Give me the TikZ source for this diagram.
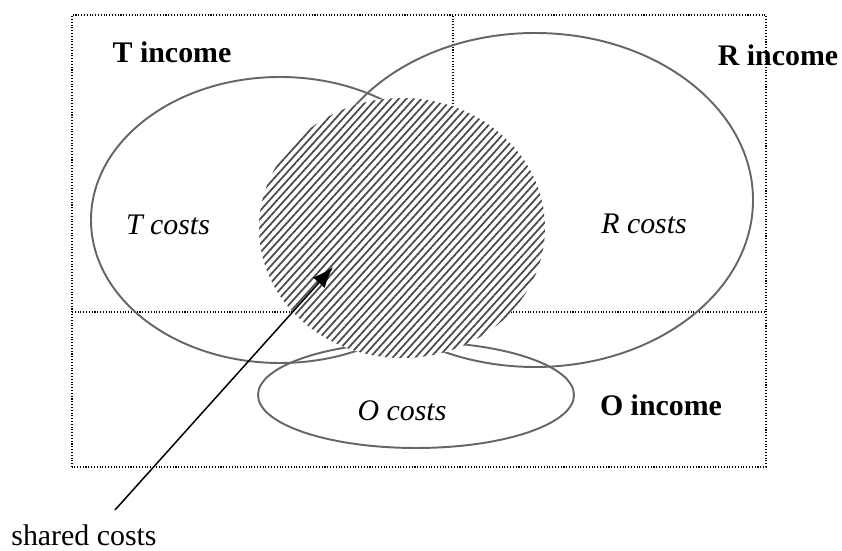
\documentclass[tikz,border=0pt]{standalone}
\usepackage{fontspec}
\setmainfont{Liberation Serif}
\usepackage{tikz}
\usetikzlibrary{
  arrows.meta,
  positioning,
  patterns.meta
}
\definecolor{setgray}{RGB}{102,102,102}
\definecolor{hatchgray}{RGB}{75,75,75}

\begin{document}
\begin{tikzpicture}[
    every node/.style={font=\fontsize{17}{20}\selectfont},
    costset/.style={draw=setgray, line width=1.1pt},
    divider/.style={densely dotted, line width=0.6pt},
    incomelabel/.style={font=\fontsize{17}{20}\selectfont\bfseries},
    costlabel/.style={font=\fontsize{17}{20}\selectfont\itshape}
  ]
            \useasboundingbox (0,0) rectangle (16.84,11);

            % Income areas
            \draw[divider] (1.44,1.66) rectangle (15.32,10.70);
            \draw[divider] (1.44,4.76) -- (15.32,4.76);
            \draw[divider] (9.06,4.76) -- (9.06,10.70);

            % Cost sets
            \draw[costset] (5.60,6.60) ellipse (3.78 and 2.86);
            \draw[costset] (10.70,7.00) ellipse (4.36 and 3.34);
            \draw[costset] (8.32,3.10) ellipse (3.16 and 1.06);

            % Shared part
            \fill[white] (8.04,6.44) ellipse (2.86 and 2.60);
            \fill[pattern={Lines[angle=48, distance=3.2pt, line width=1.0pt]}, pattern color=hatchgray]
                (8.04,6.44) ellipse (2.86 and 2.60);

            % Labels
            \node[incomelabel] (tincome) at (3.44,9.96) {T income};
            \node[incomelabel] (rincome) at (15.56,9.90) {R income};
            \node[incomelabel] (oincome) at (13.22,2.90) {O income};
            \node[costlabel] (tcosts) at (3.36,6.50) {T costs};
            \node[costlabel] (rcosts) at (12.88,6.52) {R costs};
            \node[costlabel] (ocosts) at (8.04,2.78) {O costs};
            \node (shared) at (1.68,0.30) {shared costs};

            % Pointer
            \coordinate (sharedtail) at (2.30,0.80);
            \coordinate (sharedtip) at (6.66,5.66);
            \draw[line width=0.85pt, -{Latex[length=12pt, width=9pt]}] (sharedtail) -- (sharedtip);
        \end{tikzpicture}
\end{document}
